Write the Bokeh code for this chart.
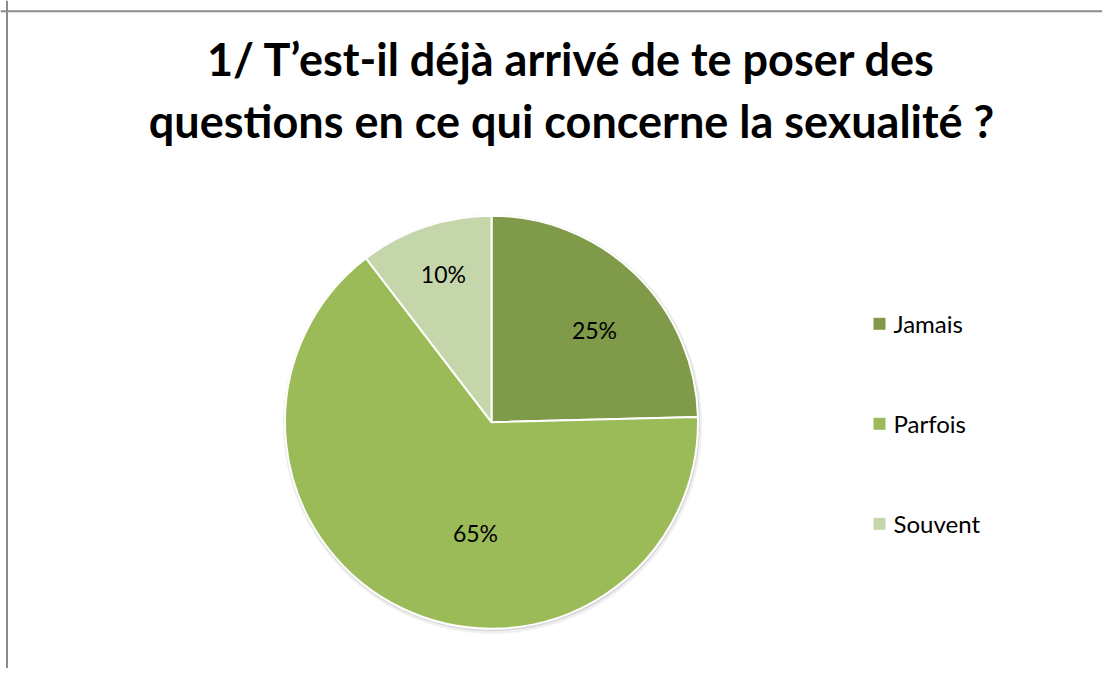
import math
from bokeh.plotting import figure
from bokeh.models import Range1d, Span, ColumnDataSource
from bokeh.core.properties import value
from bokeh.embed import file_html
from bokeh.resources import INLINE

# ---- data ----
title_lines = ["1/ T\u2019est-il d\u00e9j\u00e0 arriv\u00e9 de te poser des",
               "questions en ce qui concerne la sexualit\u00e9 ?"]
categories = ["Jamais", "Parfois", "Souvent"]
shares = [24.6, 65.0, 10.4]          # percent
pct_labels = ["25%", "65%", "10%"]   # labels as printed on the chart

# ---- style ----
colors = ["#7F9A48", "#9BBB59", "#C5D6AB"]
W, H = 1102, 668
cx, cy, R = 491, H - 421.7, 206.5
label_angle_deg = [41.8, 261.8, 108.0]
label_rfrac = [0.669, 0.544, 0.754]
FONT = "Lato"

p = figure(width=W, height=H, output_backend="svg", toolbar_location=None,
           x_range=Range1d(0, W), y_range=Range1d(0, H),
           x_axis_location=None, y_axis_location=None, title=None,
           min_border=0, outline_line_color=None)
p.grid.visible = False
p.background_fill_color = "white"
p.border_fill_color = "white"

# chart border (left and top visible)
p.add_layout(Span(location=6.5, dimension="height", line_color="#8C8C8C", line_width=2))
p.add_layout(Span(location=H - 10.8, dimension="width", line_color="#8C8C8C", line_width=2))

# title
tsrc = ColumnDataSource(dict(x=[571, 571], y=[H - 58, H - 120], t=title_lines))
p.text(x="x", y="y", text="t", source=tsrc, text_align="center",
       text_baseline="alphabetic", text_font=value(FONT),
       text_font_style="bold", text_font_size="45px", text_color="#000000")

# pie shadow
p.circle(x=[cx + 1], y=[cy - 2], radius=R + 3, fill_color="#000000",
         fill_alpha=0.06, line_color=None)
p.circle(x=[cx + 0.5], y=[cy - 1], radius=R + 1.5, fill_color="#000000",
         fill_alpha=0.10, line_color=None)

# wedges
total = sum(shares)
starts, ends, lx, ly = [], [], [], []
cum = 0.0
for i, s in enumerate(shares):
    a0 = math.pi / 2 - 2 * math.pi * cum / total
    cum += s
    a1 = math.pi / 2 - 2 * math.pi * cum / total
    starts.append(a0)
    ends.append(a1)
    a = math.radians(label_angle_deg[i])
    lx.append(cx + label_rfrac[i] * R * math.cos(a))
    ly.append(cy + label_rfrac[i] * R * math.sin(a))

src = ColumnDataSource(dict(cat=categories, share=shares, start=starts, end=ends,
                            color=colors, lab=pct_labels, lx=lx, ly=ly))
p.wedge(x=cx, y=cy, radius=R, start_angle="start", end_angle="end",
        direction="clock", fill_color="color", line_color="white",
        line_width=2, source=src)

p.text(x="lx", y="ly", text="lab", source=src, text_align="center",
       text_baseline="middle", text_font=value(FONT), text_font_size="23px",
       text_color="#000000")

# legend (manual)
leg_x = 879
leg_y = [H - 323.3, H - 423.3, H - 523.3]
legsrc = ColumnDataSource(dict(x=[leg_x] * 3, y=leg_y, color=colors, cat=categories,
                               tx=[leg_x + 14] * 3))
p.scatter(x="x", y="y", marker="square", size=12, fill_color="color",
          line_color=None, source=legsrc)
p.text(x="tx", y="y", text="cat", source=legsrc, text_align="left",
       text_baseline="middle", text_font=value(FONT), text_font_size="24px",
       text_color="#000000")

open("out.html", "w").write(file_html(p, INLINE))
